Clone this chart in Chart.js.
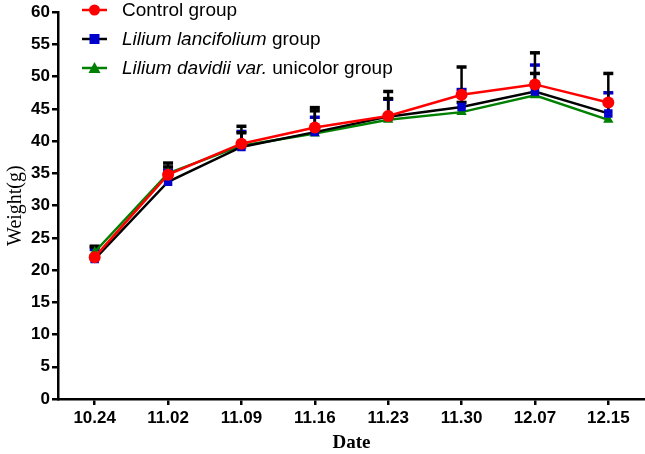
<!DOCTYPE html>
<html>
<head>
<meta charset="utf-8">
<script src="https://cdn.jsdelivr.net/npm/chart.js@4/dist/chart.umd.min.js"></script>
<style>
  html, body { margin: 0; padding: 0; background: #fff; }
  #wrap { width: 645px; height: 454px; position: relative; }
</style>
</head>
<body>
<div id="wrap"><canvas id="weightChart"></canvas></div>
<script>
// dates on the x axis
const dates = ['10.24', '11.02', '11.09', '11.16', '11.23', '11.30', '12.07', '12.15'];

// mean body weight (g)
const controlMean = [22.0, 34.8, 39.6, 42.1, 43.9, 47.2, 48.8, 46.0];
const lancifoliumMean = [21.7, 33.7, 39.1, 41.4, 43.8, 45.3, 47.7, 44.3];
const davidiiMean = [22.8, 35.0, 39.3, 41.2, 43.3, 44.5, 47.1, 43.3];

// standard deviation (only upper half drawn)
const controlSd = [1.7, 1.8, 2.7, 3.1, 3.8, 4.3, 4.9, 4.5];
const lancifoliumSd = [1.5, 1.8, 2.4, 2.3, 2.7, 2.7, 4.1, 3.2];
const davidiiSd = [0.8, 1.0, 2.0, 3.5, 3.3, 1.5, 3.4, 2.8];

const yTicks = [0, 5, 10, 15, 20, 25, 30, 35, 40, 45, 50, 55, 60];

// legend text pieces: [text, italic]
const legendLabels = [
    [['Control group', false]],
    [['Lilium lancifolium', true], [' group', false]],
    [['Lilium davidii var.', true], [' unicolor group', false]]
];

const colors = {
    red: '#ff0000',
    blue: '#0000cc',
    green: '#008000',
    black: '#000000'
};

// error bars, drawn under the lines and markers
const errorBars = {
    id: 'errorBars',
    beforeDatasetsDraw(chart) {
        const ctx = chart.ctx;
        const y = chart.scales.y;
        // blue bars first so black ones sit on top
        [1, 2, 0].forEach(i => {
            const ds = chart.data.datasets[i];
            const meta = chart.getDatasetMeta(i);
            ctx.save();
            ctx.strokeStyle = ds.errorColor;
            ctx.lineWidth = 2.5;
            meta.data.forEach((pt, j) => {
                const top = y.getPixelForValue(ds.data[j] + ds.sd[j]);
                ctx.beginPath();
                ctx.moveTo(pt.x, pt.y);
                ctx.lineTo(pt.x, top);
                ctx.stroke();
                ctx.lineWidth = 3.5;
                ctx.beginPath();
                ctx.moveTo(pt.x - 5, top);
                ctx.lineTo(pt.x + 5, top);
                ctx.stroke();
                ctx.lineWidth = 2.5;
            });
            ctx.restore();
        });
    }
};

// legend with mixed italic text
const customLegend = {
    id: 'customLegend',
    afterDraw(chart) {
        const ctx = chart.ctx;
        const rows = [10, 39, 68];
        chart.data.datasets.forEach((ds, i) => {
            const cy = rows[i];
            ctx.save();
            ctx.strokeStyle = ds.borderColor;
            ctx.lineWidth = 2.5;
            ctx.beginPath();
            ctx.moveTo(82, cy);
            ctx.lineTo(107, cy);
            ctx.stroke();
            ctx.fillStyle = ds.pointBackgroundColor;
            const cx = 94.5;
            ctx.beginPath();
            if (ds.pointStyle === 'circle') {
                ctx.arc(cx, cy, 5.5, 0, Math.PI * 2);
            } else if (ds.pointStyle === 'rect') {
                ctx.rect(cx - 5, cy - 5, 10, 10);
            } else {
                ctx.moveTo(cx, cy - 6);
                ctx.lineTo(cx + 6, cy + 5);
                ctx.lineTo(cx - 6, cy + 5);
                ctx.closePath();
            }
            ctx.fill();
            ctx.fillStyle = '#000';
            ctx.textBaseline = 'middle';
            let x = 122;
            legendLabels[i].forEach(([txt, italic]) => {
                ctx.font = (italic ? 'italic ' : '') + '19px "Liberation Sans", Arial, sans-serif';
                ctx.fillText(txt, x, cy + 1);
                x += ctx.measureText(txt).width;
            });
            ctx.restore();
        });
    }
};

const tickFont = { family: '"Liberation Sans", Arial, sans-serif', size: 17, weight: 'bold' };

new Chart(document.getElementById('weightChart'), {
    type: 'line',
    data: {
        labels: dates,
        datasets: [{
            label: 'Control group',
            data: controlMean,
            sd: controlSd,
            errorColor: colors.black,
            borderColor: colors.red,
            borderWidth: 2.5,
            pointStyle: 'circle',
            pointRadius: 6,
            pointBackgroundColor: colors.red,
            pointBorderWidth: 0,
            tension: 0
        }, {
            label: 'Lilium lancifolium group',
            data: lancifoliumMean,
            sd: lancifoliumSd,
            errorColor: colors.blue,
            borderColor: colors.black,
            borderWidth: 2.5,
            pointStyle: 'rect',
            pointRadius: 6,
            pointBackgroundColor: colors.blue,
            pointBorderWidth: 0,
            tension: 0
        }, {
            label: 'Lilium davidii var. unicolor group',
            data: davidiiMean,
            sd: davidiiSd,
            errorColor: colors.black,
            borderColor: colors.green,
            borderWidth: 2.5,
            pointStyle: 'triangle',
            pointRadius: 6,
            pointBackgroundColor: colors.green,
            pointBorderWidth: 0,
            tension: 0
        }]
    },
    options: {
        responsive: true,
        maintainAspectRatio: false,
        animation: false,
        layout: { autoPadding: false, padding: { top: 9, right: 0, left: 0, bottom: 0 } },
        scales: {
            x: {
                offset: true,
                border: { display: true, color: '#000', width: 2.5 },
                grid: { drawOnChartArea: false, drawTicks: true, tickLength: 6, color: '#000', lineWidth: 2.5 },
                ticks: { color: '#000', font: tickFont, padding: 3, maxRotation: 0 },
                title: {
                    display: true,
                    text: 'Date',
                    color: '#000',
                    font: { family: '"Liberation Serif", "Times New Roman", serif', size: 19, weight: 'bold' },
                    padding: { top: 1, bottom: 0 }
                },
                afterFit: s => { s.height = 55; s.paddingLeft = 0; s.paddingRight = 0; }
            },
            y: {
                min: 0,
                max: 60,
                afterBuildTicks: s => { s.ticks = yTicks.map(v => ({ value: v })); },
                border: { display: true, color: '#000', width: 2.5 },
                grid: { drawOnChartArea: false, drawTicks: true, tickLength: 6, color: '#000', lineWidth: 2.5 },
                ticks: { color: '#000', font: tickFont, padding: 2 },
                title: {
                    display: true,
                    text: 'Weight(g)',
                    color: '#000',
                    font: { family: '"Liberation Serif", "Times New Roman", serif', size: 20 },
                    padding: { top: 4, bottom: 0 }
                },
                afterFit: s => { s.width = 58; }
            }
        },
        plugins: {
            legend: { display: false },
            tooltip: { enabled: false }
        }
    },
    plugins: [errorBars, customLegend]
});
</script>
</body>
</html>
